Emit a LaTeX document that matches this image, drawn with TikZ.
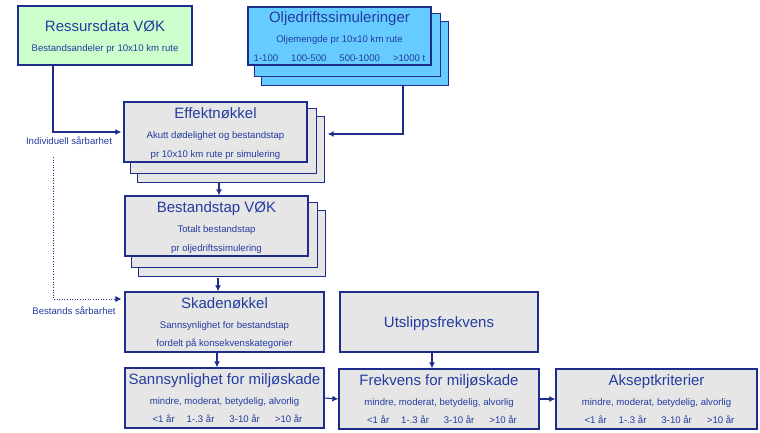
\documentclass[tikz,border=0pt]{standalone}
\usepackage{fontspec}
\setmainfont{Liberation Sans}
\usetikzlibrary{arrows.meta, positioning, backgrounds}
\definecolor{navyline}{RGB}{30, 45, 140}
\definecolor{navytext}{RGB}{35, 60, 160}
\definecolor{leafgreen}{RGB}{204, 255, 204}
\definecolor{oilblue}{RGB}{102, 204, 255}
\definecolor{boxgray}{RGB}{230, 230, 230}

\tikzset{
  box/.style={draw=navyline, line width=1.3pt, inner sep=0pt},
  title/.style={text=navytext, anchor=base, inner sep=0pt, font=\fontsize{15}{17}\selectfont},
  small/.style={text=navytext, anchor=base, inner sep=0pt, font=\fontsize{9.6}{11}\selectfont},
  arr/.style={navyline, line width=1.1pt, -{Latex[length=6pt,width=6pt]}},
  dotarr/.style={navyline, line width=0.6pt, dotted, -{Latex[length=6pt,width=6pt]}},
}

% two cards behind a box
\newcommand{\backcards}[2]{%
  \begin{pgfonlayer}{background}
    \draw[box, fill=#2] ([shift={(14,15)}]#1.north west) rectangle ([shift={(17,20)}]#1.south east);
    \draw[box, fill=#2] ([shift={(7,7)}]#1.north west) rectangle ([shift={(9,11)}]#1.south east);
  \end{pgfonlayer}}

\newcommand{\yearrow}{<1 år\hspace{12pt}1-.3 år\hspace{15pt}3-10 år\hspace{15pt}>10 år}

\begin{document}
\begin{tikzpicture}[x=1pt, y=-1pt]
    \useasboundingbox (0,0) rectangle (760,433);

    % Boxes
    \node[box, fill=leafgreen, minimum width=174pt, minimum height=59pt] (res) at (105,35.5) {};
    \node[box, fill=oilblue, minimum width=183pt, minimum height=58pt] (olj) at (339.5,36) {};
    \backcards{olj}{oilblue}
    \node[box, fill=boxgray, minimum width=183pt, minimum height=60pt] (eff) at (215.5,132) {};
    \backcards{eff}{boxgray}
    \node[box, fill=boxgray, minimum width=183pt, minimum height=60pt] (tap) at (216.5,226) {};
    \backcards{tap}{boxgray}
    \node[box, fill=boxgray, minimum width=199pt, minimum height=60pt] (skade) at (224.5,322) {};
    \node[box, fill=boxgray, minimum width=198pt, minimum height=60pt] (utsl) at (439,322) {};
    \node[box, fill=boxgray, minimum width=199pt, minimum height=60pt] (sann) at (224.5,398) {};
    \node[box, fill=boxgray, minimum width=200pt, minimum height=60pt] (frek) at (439,399) {};
    \node[box, fill=boxgray, minimum width=201pt, minimum height=60pt] (aksept) at (656.5,399) {};

    % Texts
    \node[title] (resT) at ([yshift=-26pt]res.north) {Ressursdata VØK};
    \node[small] (resA) at ([yshift=-46pt]res.north) {Bestandsandeler pr 10x10 km rute};

    \node[title] (oljT) at ([yshift=-16pt]olj.north) {Oljedriftssimuleringer};
    \node[small] (oljA) at ([yshift=-36pt]olj.north) {Oljemengde pr 10x10 km rute};
    \node[small] (oljB) at ([yshift=-55pt]olj.north) {1-100\hspace{13pt}100-500\hspace{13pt}500-1000\hspace{13pt}>1000 t};

    \node[title] (effT) at ([yshift=-17pt]eff.north) {Effektnøkkel};
    \node[small] (effA) at ([yshift=-37pt]eff.north) {Akutt dødelighet og bestandstap};
    \node[small] (effB) at ([yshift=-56pt]eff.north) {pr 10x10 km rute pr simulering};

    \node[title] (tapT) at ([yshift=-17pt]tap.north) {Bestandstap VØK};
    \node[small] (tapA) at ([yshift=-37pt]tap.north) {Totalt bestandstap};
    \node[small] (tapB) at ([yshift=-56pt]tap.north) {pr oljedriftssimulering};

    \node[title] (skadeT) at ([yshift=-17pt]skade.north) {Skadenøkkel};
    \node[small] (skadeA) at ([yshift=-37pt]skade.north) {Sannsynlighet for bestandstap};
    \node[small] (skadeB) at ([yshift=-55pt]skade.north) {fordelt på konsekvenskategorier};

    \node[title] (utslT) at ([yshift=-36pt]utsl.north) {Utslippsfrekvens};

    \node[title] (sannT) at ([yshift=-17pt]sann.north) {Sannsynlighet for miljøskade};
    \node[small] (sannA) at ([yshift=-37pt]sann.north) {mindre, moderat, betydelig, alvorlig};
    \node[small] (sannB) at ([shift={(3,55)}]sann.north) {\yearrow};

    \node[title] (frekT) at ([yshift=-17pt]frek.north) {Frekvens for miljøskade};
    \node[small] (frekA) at ([yshift=-37pt]frek.north) {mindre, moderat, betydelig, alvorlig};
    \node[small] (frekB) at ([shift={(3,55)}]frek.north) {\yearrow};

    \node[title] (akseptT) at ([yshift=-17pt]aksept.north) {Akseptkriterier};
    \node[small] (akseptA) at ([yshift=-37pt]aksept.north) {mindre, moderat, betydelig, alvorlig};
    \node[small] (akseptB) at ([shift={(3,55)}]aksept.north) {\yearrow};

    % Side labels
    \node[small, anchor=center] (indiv) at (69,141) {Individuell sårbarhet};
    \node[small, anchor=center] (bestands) at (74,311) {Bestands sårbarhet};

    % Connectors
    \coordinate (oljfoot) at ([shift={(63.5,20)}]olj.south);
    \coordinate (dottop) at (53,157);
    \draw[arr] ([xshift=-52pt]res.south) |- ([xshift=-2pt]eff.west);
    \draw[arr] (oljfoot) |- ([shift={(20,2)}]eff.east);
    \draw[dotarr] (dottop) |- ([shift={(-3,-23)}]skade.west);
    \draw[arr] ([shift={(3.5,20)}]eff.south) -- ([xshift=2.5pt]tap.north);
    \draw[arr] ([shift={(1.5,21)}]tap.south) -- ([xshift=-6.5pt]skade.north);
    \draw[arr] ([xshift=-7.5pt]skade.south) -- ([xshift=-7.5pt]sann.north);
    \draw[arr] ([xshift=-7pt]utsl.south) -- ([xshift=-7pt]frek.north);
    \draw[arr] (sann.east) -- (frek.west);
    \draw[arr] (frek.east) -- (aksept.west);
\end{tikzpicture}
\end{document}
